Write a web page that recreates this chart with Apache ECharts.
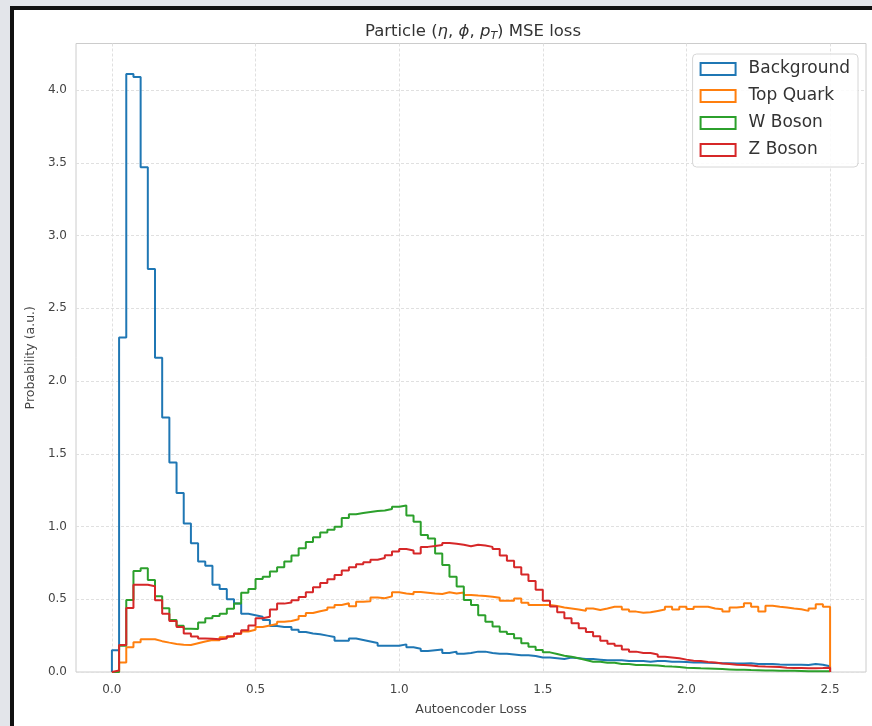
<!DOCTYPE html>
<html>
<head>
<meta charset="utf-8">
<script src="https://cdn.jsdelivr.net/npm/echarts@6/dist/echarts.min.js"></script>
<style>
	html, body { margin: 0; padding: 0; }
	body { width: 872px; height: 726px; background: #e3e5ea; position: relative; overflow: hidden; }
	.frame {
		position: absolute; left: 10px; top: 6px; width: 870px; height: 716px;
		background: #fff; border-left: 4px solid #111; border-top: 4px solid #111; border-bottom: 4px solid #111;
	}
	#draw { position: absolute; left: 0; top: 0; width: 872px; height: 726px; }
</style>
</head>
<body>
<div class="frame"></div>
<div id="draw"></div>
<script>
	// histogram: 100 bins of width 0.025 from 0 to 2.5
	const binStart = 0;
	const binWidth = 0.025;
	const xTicks = [0, 0.5, 1.0, 1.5, 2.0, 2.5];
	const yTicks = [0, 0.5, 1.0, 1.5, 2.0, 2.5, 3.0, 3.5, 4.0];
	const names = ['Background', 'Top Quark', 'W Boson', 'Z Boson'];
	const colors = ['#1f77b4', '#ff7f0e', '#2ca02c', '#d62728'];

	const background = [
		0.15, 2.30, 4.11, 4.09, 3.47, 2.77, 2.16, 1.75, 1.44, 1.23,
		1.02, 0.885, 0.76, 0.73, 0.60, 0.57, 0.50, 0.47, 0.40, 0.39,
		0.38, 0.357, 0.316, 0.31, 0.31, 0.29, 0.275, 0.265, 0.26, 0.25,
		0.24, 0.215, 0.215, 0.23, 0.22, 0.21, 0.20, 0.18, 0.18, 0.18,
		0.19, 0.17, 0.16, 0.145, 0.15, 0.155, 0.13, 0.14, 0.125, 0.13,
		0.14, 0.14, 0.13, 0.125, 0.125, 0.12, 0.115, 0.115, 0.11, 0.10,
		0.10, 0.095, 0.09, 0.10, 0.095, 0.09, 0.09, 0.085, 0.08, 0.08,
		0.08, 0.075, 0.075, 0.075, 0.07, 0.075, 0.075, 0.07, 0.07, 0.068,
		0.065, 0.065, 0.063, 0.062, 0.06, 0.06, 0.058, 0.058, 0.06, 0.055,
		0.055, 0.055, 0.052, 0.05, 0.05, 0.05, 0.048, 0.055, 0.05, 0.04
	];
	const topQuark = [
		0, 0.065, 0.17, 0.205, 0.225, 0.225, 0.212, 0.202, 0.193, 0.188,
		0.186, 0.198, 0.21, 0.22, 0.218, 0.238, 0.245, 0.262, 0.278, 0.29,
		0.31, 0.32, 0.33, 0.345, 0.35, 0.362, 0.385, 0.405, 0.418, 0.428,
		0.443, 0.461, 0.472, 0.452, 0.483, 0.487, 0.512, 0.507, 0.52, 0.548,
		0.54, 0.535, 0.55, 0.545, 0.54, 0.536, 0.548, 0.54, 0.546, 0.53,
		0.525, 0.522, 0.518, 0.51, 0.49, 0.49, 0.506, 0.476, 0.46, 0.46,
		0.46, 0.453, 0.444, 0.437, 0.43, 0.421, 0.437, 0.426, 0.437, 0.449,
		0.449, 0.43, 0.415, 0.408, 0.41, 0.42, 0.43, 0.449, 0.43, 0.449,
		0.433, 0.449, 0.449, 0.437, 0.431, 0.415, 0.444, 0.449, 0.472, 0.449,
		0.415, 0.456, 0.449, 0.444, 0.437, 0.431, 0.42, 0.437, 0.465, 0.449
	];
	const wBoson = [
		0, 0.18, 0.495, 0.695, 0.713, 0.633, 0.52, 0.438, 0.358, 0.318,
		0.298, 0.296, 0.34, 0.37, 0.385, 0.40, 0.435, 0.47, 0.545, 0.57,
		0.64, 0.655, 0.69, 0.72, 0.76, 0.80, 0.85, 0.893, 0.926, 0.958,
		0.978, 0.998, 1.058, 1.085, 1.093, 1.10, 1.107, 1.11, 1.12, 1.136,
		1.145, 1.075, 1.033, 0.942, 0.917, 0.815, 0.735, 0.655, 0.587, 0.495,
		0.46, 0.39, 0.346, 0.312, 0.277, 0.261, 0.232, 0.197, 0.174, 0.151,
		0.135, 0.124, 0.112, 0.105, 0.094, 0.082, 0.071, 0.071, 0.064, 0.064,
		0.055, 0.055, 0.048, 0.048, 0.046, 0.044, 0.04, 0.037, 0.035, 0.03,
		0.028, 0.025, 0.024, 0.022, 0.02, 0.018, 0.016, 0.015, 0.013, 0.012,
		0.011, 0.01, 0.009, 0.008, 0.008, 0.007, 0.006, 0.006, 0.005, 0.005
	];
	const zBoson = [
		0.01, 0.185, 0.44, 0.60, 0.60, 0.59, 0.493, 0.40, 0.35, 0.31,
		0.265, 0.244, 0.23, 0.228, 0.225, 0.23, 0.245, 0.265, 0.287, 0.32,
		0.37, 0.38, 0.43, 0.47, 0.478, 0.494, 0.515, 0.548, 0.583, 0.612,
		0.638, 0.667, 0.698, 0.72, 0.74, 0.754, 0.772, 0.784, 0.802, 0.828,
		0.845, 0.835, 0.815, 0.86, 0.866, 0.873, 0.887, 0.882, 0.874, 0.865,
		0.875, 0.87, 0.86, 0.845, 0.80, 0.765, 0.72, 0.67, 0.625, 0.565,
		0.49, 0.45, 0.41, 0.37, 0.335, 0.30, 0.275, 0.245, 0.215, 0.195,
		0.18, 0.155, 0.14, 0.13, 0.13, 0.12, 0.105, 0.10, 0.095, 0.085,
		0.078, 0.075, 0.068, 0.065, 0.058, 0.055, 0.05, 0.048, 0.045, 0.04,
		0.037, 0.036, 0.035, 0.03, 0.028, 0.027, 0.025, 0.025, 0.027, 0.03
	];

	// histtype='step' outline: up from 0, across each bin, back down at the end
	function stepPoints(vals) {
		let pts = [[binStart, 0]];
		for (let i = 0; i < vals.length; i++) {
			let a = +(binStart + i * binWidth).toFixed(4);
			let b = +(binStart + (i + 1) * binWidth).toFixed(4);
			pts.push([a, vals[i]], [b, vals[i]]);
		}
		pts.push([+(binStart + vals.length * binWidth).toFixed(4), 0]);
		return pts;
	}

	const allVals = [background, topQuark, wBoson, zBoson];
	const seris = allVals.map(function(v, i) {
		return {
			name: names[i],
			type: 'line',
			data: stepPoints(v),
			showSymbol: false,
			symbol: 'none',
			z: 2 + i,
			lineStyle: { color: colors[i], width: 2 },
			itemStyle: { color: colors[i] }
		};
	});

	const FONT = '"DejaVu Sans", sans-serif';
	let myChart = echarts.init(document.getElementById('draw'));
	myChart.setOption({
		animation: false,
		textStyle: { fontFamily: FONT },
		title: {
			text: 'Particle ({it|η}, {it|ϕ}, {it|p}{sub|T}) MSE loss',
			left: 468,
			textAlign: 'center',
			top: 17,
			textStyle: {
				fontFamily: FONT, fontSize: 16.5, fontWeight: 'normal', color: '#333',
				rich: {
					it: { fontFamily: FONT, fontSize: 16.5, fontStyle: 'italic', color: '#333' },
					sub: { fontFamily: FONT, fontSize: 11, fontStyle: 'italic', color: '#333', padding: [9, 0, 0, 0] }
				}
			}
		},
		legend: {
			orient: 'vertical',
			right: 14,
			top: 54,
			icon: 'rect',
			itemWidth: 35,
			itemHeight: 12,
			itemGap: 7,
			padding: [5, 8, 7, 7],
			backgroundColor: 'rgba(255,255,255,0.85)',
			borderColor: '#d6d6d6',
			borderWidth: 1,
			borderRadius: 4,
			textStyle: { fontFamily: FONT, fontSize: 17, lineHeight: 20, color: '#333', padding: [0, 0, 0, 8] },
			data: names.map(function(n, i) {
				return { name: n, itemStyle: { color: '#fff', borderColor: colors[i], borderWidth: 2 } };
			})
		},
		grid: {
			left: 76,
			right: 6,
			top: 43.5,
			bottom: 54,
			show: true,
			borderColor: '#cccccc',
			borderWidth: 1
		},
		xAxis: {
			type: 'value',
			min: -0.125,
			max: 2.625,
			name: 'Autoencoder Loss',
			nameLocation: 'middle',
			nameGap: 31,
			nameTextStyle: { fontFamily: FONT, fontSize: 12.5, color: '#444' },
			axisLine: { show: false },
			axisTick: { show: false, customValues: xTicks },
			axisLabel: {
				customValues: xTicks,
				color: '#444', fontSize: 12, margin: 12,
				formatter: function(v) { return v.toFixed(1); }
			},
			splitLine: { show: true, lineStyle: { color: '#e0e0e0', type: [3, 2], width: 1 } }
		},
		yAxis: {
			type: 'value',
			min: 0,
			max: 4.32,
			name: 'Probability (a.u.)',
			nameLocation: 'middle',
			nameGap: 37,
			nameTextStyle: { fontFamily: FONT, fontSize: 12.5, color: '#444' },
			axisLine: { show: false },
			axisTick: { show: false, customValues: yTicks },
			axisLabel: {
				customValues: yTicks,
				color: '#444', fontSize: 12, margin: 9,
				formatter: function(v) { return v.toFixed(1); }
			},
			splitLine: { show: true, lineStyle: { color: '#e0e0e0', type: [3, 2], width: 1 } }
		},
		series: seris
	});
</script>
</body>
</html>
